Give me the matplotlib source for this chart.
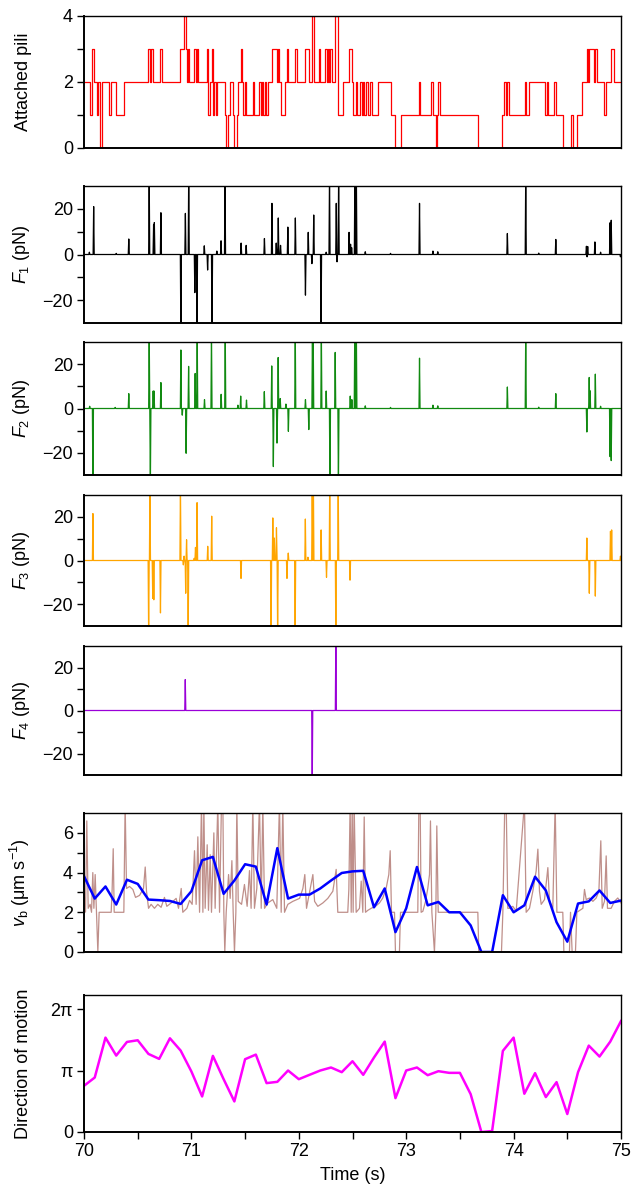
import numpy as np
import matplotlib.pyplot as plt
from matplotlib.ticker import MultipleLocator, FixedLocator

plt.rcParams['font.family'] = ['Liberation Sans', 'DejaVu Sans']
plt.rcParams['mathtext.fontset'] = 'custom'
plt.rcParams['mathtext.rm'] = 'Liberation Sans'
plt.rcParams['mathtext.it'] = 'Liberation Sans:italic'

FS = 13

# number of attached pili (change points, value holds until next time)
pili_t = [70.000, 70.060, 70.076, 70.095, 70.123, 70.135, 70.147, 70.163, 70.234, 70.247,
          70.300, 70.377, 70.594, 70.610, 70.625, 70.641, 70.706, 70.722, 70.895, 70.933,
          70.951, 70.960, 70.970, 70.982, 71.026, 71.041, 71.051, 71.063, 71.144, 71.159,
          71.175, 71.193, 71.203, 71.215, 71.231, 71.243, 71.311, 71.324, 71.342, 71.358,
          71.383, 71.401, 71.420, 71.435, 71.460, 71.473, 71.485, 71.497, 71.510, 71.569,
          71.581, 71.631, 71.644, 71.656, 71.668, 71.681, 71.693, 71.715, 71.749, 71.796,
          71.808, 71.820, 71.836, 71.870, 71.892, 71.904, 71.966, 71.979, 72.059, 72.094,
          72.121, 72.143, 72.190, 72.202, 72.246, 72.258, 72.270, 72.283, 72.295, 72.308,
          72.341, 72.363, 72.407, 72.470, 72.497, 72.509, 72.528, 72.540, 72.571, 72.584,
          72.596, 72.609, 72.627, 72.640, 72.664, 72.677, 72.739, 72.863, 72.900, 72.953,
          73.118, 73.133, 73.229, 73.248, 73.273, 73.285, 73.295, 73.313, 73.667, 73.894,
          73.909, 73.925, 73.940, 73.959, 74.108, 74.120, 74.139, 74.291, 74.310, 74.322,
          74.378, 74.396, 74.458, 74.533, 74.552, 74.589, 74.639, 74.682, 74.694, 74.704,
          74.747, 74.759, 74.772, 74.843, 74.856, 74.908, 74.933, 75.000]
pili_v = [2, 1, 3, 2, 1, 2, 0, 2, 1, 2,
          1, 2, 3, 2, 3, 2, 3, 2, 3, 4,
          3, 2, 3, 2, 3, 2, 3, 2, 3, 1,
          2, 3, 1, 2, 1, 2, 1, 0, 1, 2,
          1, 0, 1, 2, 3, 2, 1, 2, 1, 2,
          1, 2, 1, 2, 1, 2, 1, 2, 3, 2,
          3, 2, 1, 2, 3, 2, 3, 2, 3, 2,
          4, 2, 3, 2, 3, 2, 3, 2, 3, 2,
          4, 1, 2, 3, 2, 1, 2, 1, 2, 1,
          2, 1, 2, 1, 2, 1, 2, 1, 0, 1,
          2, 1, 2, 1, 0, 1, 2, 1, 0, 1,
          2, 1, 2, 1, 2, 1, 2, 1, 2, 1,
          2, 1, 0, 1, 0, 1, 2, 3, 2, 3,
          2, 3, 2, 1, 2, 3, 2, 2]

# force spikes per pilus (time, peak value in pN); force is 0 elsewhere
f1_t = [70.050, 70.090, 70.300, 70.417, 70.607, 70.648, 70.655, 70.716, 70.902, 70.944,
        70.975, 71.032, 71.052, 71.120, 71.151, 71.192, 71.237, 71.276, 71.313, 71.463,
        71.510, 71.680, 71.750, 71.790, 71.800, 71.809, 71.830, 71.898, 71.968, 72.062,
        72.088, 72.122, 72.139, 72.207, 72.255, 72.286, 72.349, 72.356, 72.371, 72.468,
        72.482, 72.492, 72.522, 72.536, 72.619, 72.854, 73.124, 73.249, 73.294, 73.942,
        74.113, 74.234, 74.393, 74.678, 74.684, 74.690, 74.757, 74.810, 74.898, 74.909, 74.995]
f1_v = [1, 21, 0.5, 6.8, 35, 13, 14, 18.3, -35, 18,
        35, -16.7, -35, 3.8, -6.8, -35, 1.5, 6, 35, 5,
        4, 7, 22.4, 5, 2, 16, 4, 12, 16, -17.8,
        9.7, -4, 17.3, -35, 1, 35, 22.4, -3.2, 35, 9.7,
        4.5, 3, 35, 35, 1.2, 0.5, 22.4, 1.5, 1.2, 9.2,
        35, 0.6, 6.6, 3.6, -1, 3.5, 5.5, 1, 13.9, 15, -1]

f2_t = [70.053, 70.083, 70.290, 70.417, 70.607, 70.618, 70.644, 70.652, 70.716, 70.902,
        70.915, 70.951, 70.974, 71.035, 71.054, 71.122, 71.187, 71.277, 71.315, 71.433,
        71.459, 71.513, 71.679, 71.748, 71.763, 71.797, 71.808, 71.827, 71.880, 71.903,
        71.967, 72.062, 72.093, 72.127, 72.134, 72.210, 72.255, 72.290, 72.339, 72.369,
        72.479, 72.494, 72.521, 72.536, 72.619, 72.854, 73.124, 73.249, 73.294, 73.942,
        74.113, 74.234, 74.393, 74.682, 74.704, 74.712, 74.761, 74.810, 74.898, 74.909]
f2_v = [1, -35, 0.5, 6.7, 35, -35, 7.9, 7.9, 11.7, 26.4,
        -3, -20.2, 19, 15.8, 35, 4, 35, 6.4, 35, 1.5,
        5.6, 3.8, 7.6, 19.2, -26.2, -15.6, 23, 4.5, 2, -10.3,
        35, 4, -9.5, 35, 35, 35, 7.9, -35, 25.3, -35,
        5.6, 4, 35, 35, 1.2, 0.5, 22.7, 1.5, 1.2, 9.7,
        35, 0.6, 6.7, -10.6, 14, 8, 15.5, 1, -21.7, -23.5]

f3_t = [70.083, 70.602, 70.614, 70.640, 70.650, 70.712, 70.898, 70.925, 70.932, 70.947,
        70.955, 70.970, 71.026, 71.038, 71.053, 71.152, 71.189, 71.462, 71.742, 71.758,
        71.772, 71.792, 71.803, 71.890, 71.902, 71.966, 72.061, 72.085, 72.125, 72.136,
        72.208, 72.258, 72.288, 72.345, 72.367, 72.477, 74.682, 74.705, 74.761, 74.902,
        74.913, 74.995]
f3_v = [21.5, -35, 35, -17.4, -18, -24, 35, -2, 2, -15,
        9.5, -35, 1, 6, 26.5, 6.5, 20.3, -8.2, -35, 19.5,
        10.3, 15, -35, -8.2, 3.4, -35, 19, 1.5, 35, 35,
        14, -7.7, 35, -35, 35, -9, 10.3, -15, -16.3, 13.4,
        14, 2]

f4_t = [70.943, 72.125, 72.345]
f4_v = [14.4, -35, 35]

# raw bacterium speed (um/s)
vb_raw_t = [70.000, 70.014, 70.026, 70.039, 70.057, 70.070, 70.082, 70.092, 70.104, 70.116,
            70.129, 70.141, 70.253, 70.262, 70.272, 70.281, 70.371, 70.383, 70.396, 70.424,
            70.455, 70.480, 70.517, 70.554, 70.570, 70.582, 70.601, 70.625, 70.656, 70.687,
            70.718, 70.749, 70.771, 70.812, 70.858, 70.880, 70.905, 70.920, 70.958, 70.983,
            71.007, 71.029, 71.044, 71.060, 71.076, 71.094, 71.107, 71.116, 71.128, 71.147,
            71.159, 71.175, 71.187, 71.209, 71.221, 71.246, 71.262, 71.280, 71.293, 71.302,
            71.311, 71.324, 71.346, 71.361, 71.377, 71.389, 71.401, 71.414, 71.423, 71.436,
            71.467, 71.494, 71.519, 71.541, 71.556, 71.572, 71.587, 71.609, 71.634, 71.650,
            71.665, 71.681, 71.712, 71.758, 71.795, 71.820, 71.836, 71.851, 71.867, 71.898,
            71.944, 72.007, 72.038, 72.056, 72.072, 72.100, 72.131, 72.147, 72.177, 72.224,
            72.270, 72.317, 72.348, 72.363, 72.456, 72.466, 72.478, 72.488, 72.497, 72.506,
            72.515, 72.534, 72.565, 72.581, 72.596, 72.609, 72.621, 72.643, 72.674, 72.714,
            72.751, 72.782, 72.813, 72.838, 72.851, 72.863, 72.891, 72.900, 72.937, 72.947,
            73.108, 73.118, 73.130, 73.139, 73.155, 73.180, 73.201, 73.217, 73.226, 73.239,
            73.263, 73.276, 73.285, 73.298, 73.667, 73.676, 73.887, 73.900, 73.918, 73.931,
            73.946, 73.962, 73.993, 74.024, 74.101, 74.117, 74.148, 74.179, 74.210, 74.226,
            74.241, 74.257, 74.288, 74.319, 74.334, 74.365, 74.387, 74.403, 74.458, 74.468,
            74.520, 74.530, 74.545, 74.576, 74.589, 74.645, 74.660, 74.676, 74.707, 74.738,
            74.769, 74.794, 74.812, 74.825, 74.846, 74.862, 74.874, 74.908, 74.939, 74.970, 75.000]
vb_raw_v = [3.06, 2.01, 6.6, 2.2, 2.4, 2.0, 4.0, 2.2, 3.9, 2.0,
            0, 2.0, 2.0, 3.15, 5.2, 2.0, 2.0, 7.5, 3.2, 3.3,
            3.15, 2.75, 2.85, 3.2, 4.28, 3.06, 2.2, 2.4, 2.2, 2.4,
            2.25, 2.75, 2.3, 2.47, 2.7, 2.2, 3.2, 2.0, 2.2, 2.6,
            2.4, 5.1, 2.4, 5.8, 2.0, 7.5, 2.0, 7.5, 2.2, 5.4,
            2.1, 4.9, 2.0, 6.0, 2.2, 7.5, 2.0, 7.5, 7.5, 2.0,
            0, 2.0, 3.9, 2.7, 4.6, 2.0, 0, 2.0, 7.5, 2.55,
            2.4, 3.4, 2.3, 4.1, 2.2, 7.5, 2.2, 3.2, 7.5, 2.2,
            7.5, 2.2, 2.47, 2.64, 2.2, 7.5, 2.0, 7.5, 2.0, 2.4,
            2.55, 2.7, 3.2, 3.9, 2.2, 3.0, 3.9, 2.55, 2.3, 2.47,
            2.7, 3.06, 4.16, 2.0, 2.0, 3.15, 7.5, 2.0, 7.5, 2.0,
            7.5, 2.0, 2.2, 3.57, 2.0, 6.8, 2.0, 2.1, 2.2, 2.3,
            2.47, 2.72, 3.2, 3.9, 5.1, 2.0, 2.0, 0, 0, 2.0,
            2.0, 7.5, 7.5, 2.0, 2.05, 2.55, 3.2, 3.9, 6.6, 2.0,
            0, 2.0, 6.35, 2.0, 2.0, 0, 0, 2.0, 7.5, 7.5,
            2.2, 2.2, 2.3, 2.05, 7.5, 2.0, 2.2, 3.06, 4.08, 5.18,
            3.06, 2.4, 2.64, 4.25, 2.55, 2.2, 7.5, 2.0, 2.0, 0,
            0, 2.0, 0, 0, 2.0, 2.2, 3.15, 2.64, 2.72, 2.55,
            2.72, 3.06, 5.6, 2.2, 2.55, 4.84, 2.2, 2.2, 2.55, 2.72, 2.47]

# speed averaged over 0.1 s windows
vb_avg = [3.82, 2.69, 3.30, 2.39, 3.64, 3.43, 2.64, 2.61, 2.57, 2.42,
          3.06, 4.62, 4.79, 2.93, 3.60, 4.42, 4.30, 2.39, 5.23, 2.69,
          2.89, 2.89, 3.20, 3.60, 3.98, 4.06, 4.09, 2.25, 3.20, 1.00,
          2.20, 4.28, 2.35, 2.52, 2.00, 2.00, 1.34, 0.00, 0.00, 2.86,
          2.00, 2.35, 3.79, 3.10, 1.50, 0.52, 2.44, 2.55, 3.10, 2.47, 2.59]

# direction of motion, in units of pi
direction_pi = [0.751, 0.886, 1.535, 1.243, 1.465, 1.492, 1.270, 1.189, 1.524, 1.324,
                0.984, 0.578, 1.238, 0.859, 0.497, 1.184, 1.259, 0.795, 0.816, 1.000,
                0.859, 0.930, 1.000, 1.049, 0.973, 1.151, 0.930, 1.211, 1.470, 0.551,
                1.000, 1.049, 0.924, 0.989, 0.962, 0.962, 0.616, 0.000, 0.016, 1.319,
                1.535, 0.622, 0.957, 0.568, 0.811, 0.292, 0.973, 1.405, 1.227, 1.470, 1.805]

avg_t = np.linspace(70, 75, len(vb_avg))


def spike_line(ts, vs, w=0.005):
    # force is zero between the listed spikes
    x, y = [70.0], [0.0]
    for t, v in zip(ts, vs):
        x += [t - w, t, t + w]
        y += [0.0, v, 0.0]
    x.append(75.0)
    y.append(0.0)
    return x, y


fig = plt.figure(figsize=(6.38, 11.98), dpi=100)
H = 1198.0

# panel boxes in pixels (top, bottom)
boxes = [(16, 148), (186, 323), (342, 475), (495, 626), (646, 775), (813, 952), (995, 1132)]
axes = []
for top, bot in boxes:
    ax = fig.add_axes([84 / 638, (H - bot) / H, 537 / 638, (bot - top) / H])
    ax.set_xlim(70, 75)
    ax.tick_params(axis='both', which='both', direction='out', length=5, width=1,
                   labelsize=FS, pad=3)
    ax.tick_params(axis='x', which='both', bottom=False, labelbottom=False)
    for s in ax.spines.values():
        s.set_linewidth(1.0)
    ax.spines['left'].set_linewidth(1.4)
    ax.spines['bottom'].set_linewidth(1.4)
    axes.append(ax)

# pili
ax = axes[0]
ax.plot(pili_t, pili_v, drawstyle='steps-post', color='red', lw=0.9)
ax.set_ylim(0, 4)
ax.yaxis.set_major_locator(FixedLocator([0, 2, 4]))
ax.yaxis.set_minor_locator(FixedLocator([1, 3]))
ax.set_ylabel('Attached pili', fontsize=FS)

# forces
force_data = [(f1_t, f1_v, 'black', '$F_1$ (pN)'),
              (f2_t, f2_v, '#118a11', '$F_2$ (pN)'),
              (f3_t, f3_v, '#ffa500', '$F_3$ (pN)'),
              (f4_t, f4_v, '#9a00d8', '$F_4$ (pN)')]
for ax, (ts, vs, c, lab) in zip(axes[1:5], force_data):
    x, y = spike_line(ts, vs)
    ax.plot(x, y, color=c, lw=0.9)
    ax.set_ylim(-30, 30)
    ax.yaxis.set_major_locator(FixedLocator([-20, 0, 20]))
    ax.yaxis.set_minor_locator(FixedLocator([-10, 10]))
    ax.set_yticklabels(['\u221220', '0', '20'])
    ax.set_ylabel(lab, fontsize=FS)

# speed
ax = axes[5]
ax.plot(vb_raw_t, vb_raw_v, color='#bf8f8a', lw=0.9)
ax.plot(avg_t, vb_avg, color='#0000ff', lw=1.8)
ax.set_ylim(0, 7)
ax.yaxis.set_major_locator(FixedLocator([0, 2, 4, 6]))
ax.yaxis.set_minor_locator(FixedLocator([1, 3, 5]))
ax.set_ylabel('$v_\\mathrm{b}$ (\u03bcm s$^{-1}$)', fontsize=FS)

# direction
ax = axes[6]
ax.plot(avg_t, np.array(direction_pi) * np.pi, color='#ff00ff', lw=1.8)
ax.set_ylim(0, 7)
ax.yaxis.set_major_locator(FixedLocator([0, np.pi, 2 * np.pi]))
ax.set_yticklabels(['0', '\u03c0', '2\u03c0'])
ax.set_ylabel('Direction of motion', fontsize=FS)
ax.tick_params(axis='x', which='both', bottom=True, labelbottom=True)
ax.xaxis.set_major_locator(MultipleLocator(1))
ax.xaxis.set_minor_locator(MultipleLocator(0.5))
ax.set_xlabel('Time (s)', fontsize=FS, labelpad=5)

for ax in axes:
    ax.yaxis.set_label_coords(-0.097, 0.5)

plt.savefig('out.png', dpi=100)
plt.close()
